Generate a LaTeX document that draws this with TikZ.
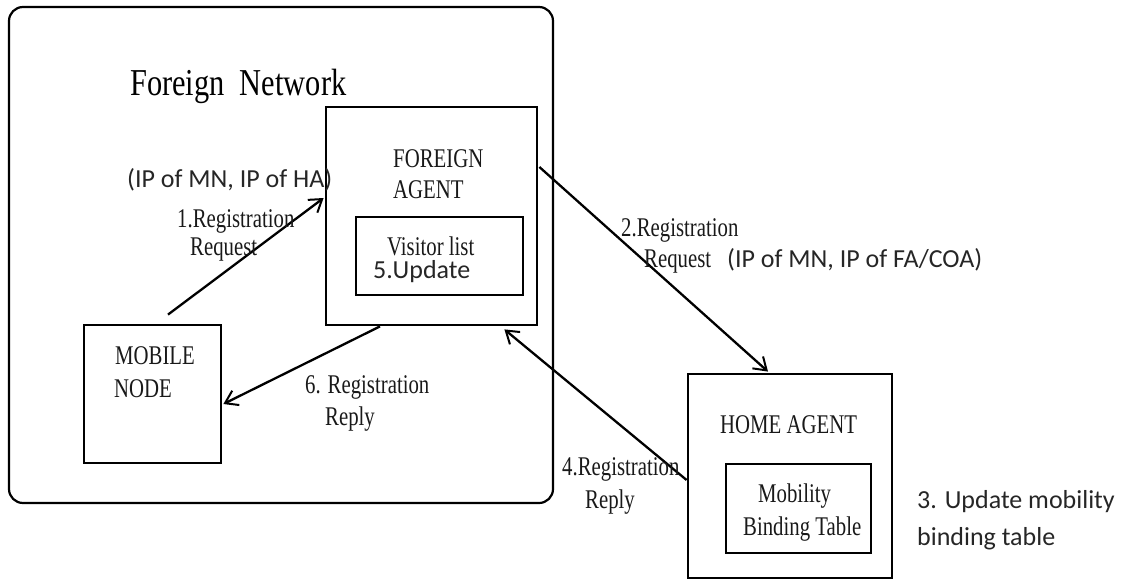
\documentclass[tikz,border=0pt]{standalone}
\usepackage{fontspec}
\usepackage{graphicx}
\setmainfont{Liberation Serif}
\newfontfamily\calfont{Carlito}
\usetikzlibrary{arrows.meta,calc}
\newcommand\srf[1]{\scalebox{0.77}[1]{#1}}
\begin{document}
\begin{tikzpicture}[x=1pt,y=-1pt,
  box/.style={draw, line width=2.8pt, inner sep=0pt, anchor=center},
  serif/.style={font=\fontsize{27}{31}\selectfont, inner sep=0pt, anchor=base west, text=black!90},
  sans/.style={font=\calfont\fontsize{26}{30}\selectfont, inner sep=0pt, anchor=base west, text=black!85},
  arr/.style={line width=2.3pt, -{Straight Barb[length=12pt,width=16pt,line width=2pt]}}]
\useasboundingbox (0,0) rectangle (1122,581);
% outer network
\node[draw, line width=2.2pt, rounded corners=14pt, minimum width=544pt, minimum height=496pt, inner sep=0pt] (net) at (281,255) {};
\node[font=\fontsize{38}{42}\selectfont, inner sep=0pt, anchor=base west] (netlbl) at (130,95) {\scalebox{0.8}[1]{Foreign\ \ Network}};
% boxes
\node[box, minimum width=211pt, minimum height=218pt] (fa) at (431.5,216) {};
\node[box, minimum width=167pt, minimum height=78pt] (vl) at (439.5,256) {};
\node[box, minimum width=137pt, minimum height=138pt] (mn) at (152.5,394) {};
\node[box, minimum width=204pt, minimum height=204pt] (ha) at (790,476) {};
\node[box, minimum width=145pt, minimum height=89pt] (mbt) at (798.5,508.5) {};
% box texts
\node[serif] (fa1) at (393,167) {\srf{FOREIGN}};
\node[serif] (fa2) at (393,198) {\srf{AGENT}};
\node[serif] (vl1) at (387,255) {\srf{Visitor list}};
\node[sans] (vl2) at (373,278) {5.Update};
\node[serif] (mn1) at (115,364) {\srf{MOBILE}};
\node[serif] (mn2) at (114,397) {\srf{NODE}};
\node[serif] (ha1) at (720,433) {\srf{HOME AGENT}};
\node[serif] (mb1) at (758,502) {\srf{Mobility}};
\node[serif] (mb2) at (743,535) {\srf{Binding Table}};
% arrows
\draw[arr] ($(mn.north)+(15.5,-9)$) -- ($(fa.west)+(-1,-18)$);
\draw[arr] ($(fa.east)+(1,-49)$) -- ($(ha.north)+(-22,-1)$);
\draw[arr] ($(ha.west)+(0,4)$) -- ($(fa.south east)+(-34,3)$);
\draw[arr] ($(fa.south)+(-51.5,0)$) -- ($(mn.east)+(1,10)$);
% arrow labels
\node[sans] (ip1) at (127,187) {(IP of MN, IP of HA)};
\node[serif] (l1a) at (177,227) {\srf{1.Registration}};
\node[serif] (l1b) at (190,255) {\srf{Request}};
\node[serif] (l2a) at (621,236) {\srf{2.Registration}};
\node[serif] (l2b) at (644,267) {\srf{Request}};
\node[sans] (ip2) at (727,267) {(IP of MN, IP of FA/COA)};
\node[serif] (l6a) at (305,393) {\srf{6. Registration}};
\node[serif] (l6b) at (325,425) {\srf{Reply}};
\node[serif] (l4a) at (562,475) {\srf{4.Registration}};
\node[serif] (l4b) at (585,508) {\srf{Reply}};
\node[sans] (u3a) at (917,508) {3. Update mobility};
\node[sans] (u3b) at (917,545) {binding table};
\end{tikzpicture}
\end{document}
